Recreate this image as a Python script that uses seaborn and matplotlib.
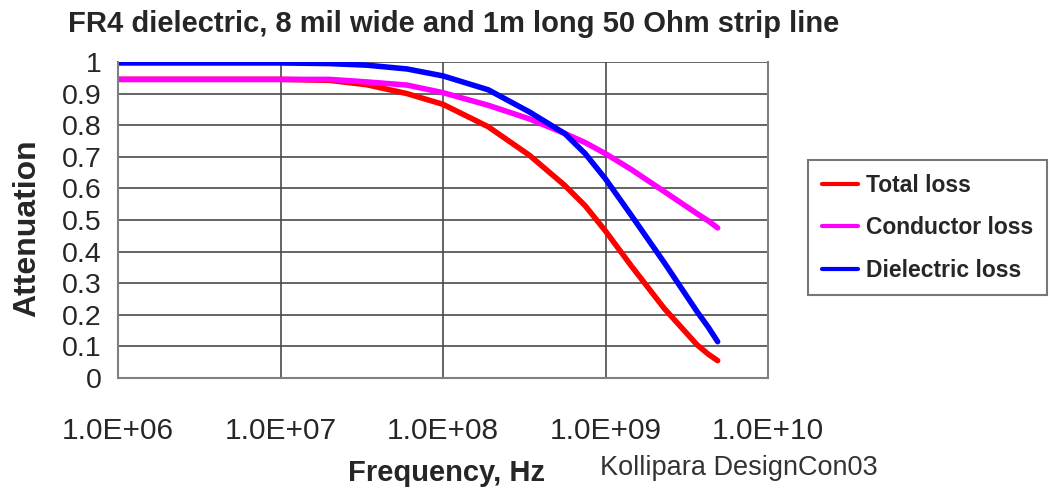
import matplotlib
matplotlib.use("Agg")
import matplotlib.pyplot as plt
from matplotlib.lines import Line2D
import seaborn as sns
import pandas as pd

freq = [1e6, 1e7, 2e7, 3.4e7, 6e7, 1e8, 1.9e8, 3.4e8, 5.6e8, 7.5e8, 1e9,
        1.44e9, 2.3e9, 3.66e9, 4.3e9, 4.9e9]
total_loss = [0.945, 0.945, 0.942, 0.928, 0.90, 0.866, 0.795, 0.705, 0.61,
              0.545, 0.465, 0.355, 0.22, 0.105, 0.075, 0.055]
conductor_loss = [0.945, 0.945, 0.945, 0.937, 0.927, 0.903, 0.863, 0.82, 0.774,
                  0.745, 0.71, 0.66, 0.59, 0.52, 0.497, 0.475]
dielectric_loss = [0.997, 0.997, 0.995, 0.99, 0.978, 0.956, 0.912, 0.842, 0.774,
                   0.71, 0.63, 0.515, 0.365, 0.21, 0.16, 0.115]
series_names = ["Total loss", "Conductor loss", "Dielectric loss"]
series_colors = ["#ff0000", "#ff00ff", "#0000ff"]
x_ticks = [1e6, 1e7, 1e8, 1e9, 1e10]
x_tick_labels = ["1.0E+06", "1.0E+07", "1.0E+08", "1.0E+09", "1.0E+10"]
y_ticks = [0, 0.1, 0.2, 0.3, 0.4, 0.5, 0.6, 0.7, 0.8, 0.9, 1]
y_tick_labels = ["0", "0.1", "0.2", "0.3", "0.4", "0.5", "0.6", "0.7", "0.8", "0.9", "1"]

df = pd.DataFrame({
    "Frequency": freq * 3,
    "Attenuation": total_loss + conductor_loss + dielectric_loss,
    "Series": [series_names[0]] * len(freq) + [series_names[1]] * len(freq)
              + [series_names[2]] * len(freq),
})

sns.set_theme(style="white")
plt.rcParams["font.family"] = ["Liberation Sans", "DejaVu Sans"]

fig = plt.figure(figsize=(10.52, 4.94), dpi=100)
ax = fig.add_axes([118 / 1052, 1 - 378 / 494, (768 - 118) / 1052, (378 - 62) / 494])

sns.lineplot(data=df, x="Frequency", y="Attenuation", hue="Series",
             hue_order=series_names, palette=series_colors, linewidth=4.0,
             ax=ax, legend=False, sort=True,
             solid_joinstyle="round", solid_capstyle="round")
ax.set_xscale("log")
ax.set_xlim(1e6, 1e10)
ax.set_ylim(0, 1)
ax.set_xticks(x_ticks)
ax.set_xticklabels(x_tick_labels, fontsize=21.5)
ax.set_yticks(y_ticks)
ax.set_yticklabels(y_tick_labels, fontsize=20.5)
ax.minorticks_off()
ax.grid(True, color="#4a4a4a", linewidth=1.2)
ax.set_axisbelow(True)
for s in ["left", "right", "bottom"]:
    ax.spines[s].set_visible(True)
    ax.spines[s].set_color("#808080")
    ax.spines[s].set_linewidth(1.5)
ax.spines["top"].set_visible(False)
ax.tick_params(axis="x", direction="out", length=8, width=1.5, color="#808080", pad=20)
ax.tick_params(axis="y", direction="out", length=8, width=1.5, color="#4a4a4a", pad=4)

ax.set_xlabel("Frequency, Hz", fontsize=21, fontweight="bold")
ax.set_ylabel("Attenuation", fontsize=23, fontweight="bold")
ax.xaxis.set_label_coords((447 - 118) / 650, -(459 - 378) / 316)
ax.yaxis.set_label_coords(-(118 - 42) / 650, (378 - 228) / 316)

fig.text(68 / 1052, 1 - 24 / 494, "FR4 dielectric, 8 mil wide and 1m long 50 Ohm strip line",
         fontsize=21, fontweight="bold", ha="left", va="center")
fig.text(600 / 1052, 1 - 468 / 494, "Kollipara DesignCon03", fontsize=19.5,
         color="#333333", ha="left", va="center")

handles = [Line2D([0], [0], color=c, linewidth=3) for c in series_colors]
leg = fig.legend(handles, series_names, loc="upper left",
                 bbox_to_anchor=(808 / 1052, 1 - 160 / 494),
                 frameon=True, fancybox=False, edgecolor="#555555",
                 prop={"size": 16.5, "weight": "bold"}, handlelength=1.6,
                 handletextpad=0.35, labelspacing=0.85, borderpad=0.6,
                 borderaxespad=0)
leg.get_frame().set_linewidth(1.5)

fig.savefig("out.png", dpi=100)
